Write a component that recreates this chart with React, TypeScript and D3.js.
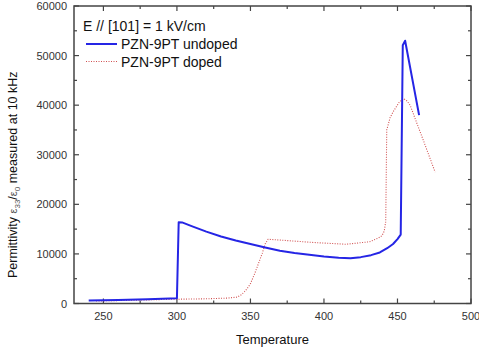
import * as React from 'react'
import * as d3 from 'd3'

// temperature / permittivity
const undopedT = [240, 260, 280, 300, 301.2, 303.5, 310, 320, 330, 340, 350, 360, 370, 380, 390, 400, 410, 418, 425, 432, 438, 443, 447, 450, 452.2, 453.6, 455.2, 464.7]
const undopedV = [600, 700, 850, 1050, 16400, 16350, 15600, 14500, 13500, 12700, 12000, 11300, 10650, 10200, 9850, 9500, 9250, 9150, 9350, 9750, 10300, 11150, 12000, 13000, 13900, 52100, 53000, 38000]

const dopedT = [245, 270, 297, 320, 335, 341, 344, 346, 348, 350, 353, 356, 358, 360, 362, 370, 393, 415, 431, 437, 439.5, 441, 442, 442.7, 445, 447, 451, 454, 456, 458.6, 463, 467.6, 475.6]
const dopedV = [500, 650, 850, 950, 1100, 1300, 1800, 2400, 3100, 4000, 6100, 8500, 10100, 12000, 12950, 12800, 12300, 11950, 12450, 13200, 13700, 14600, 16500, 35000, 37500, 38650, 40500, 41350, 41000, 40000, 36500, 32900, 26500]

const xTicks = [250, 300, 350, 400, 450, 500]
const yTicks = [0, 10000, 20000, 30000, 40000, 50000, 60000]

const legendItems = ['PZN-9PT undoped', 'PZN-9PT doped']

const W = 479
const H = 349
const margin = { left: 74, right: 8, top: 6, bottom: 45.5 }

export default function App() {
  const x = d3.scaleLinear().domain([230, 500]).range([margin.left, W - margin.right])
  const y = d3.scaleLinear().domain([0, 60000]).range([H - margin.bottom, margin.top])

  const line = d3.line<[number, number]>()
    .x(d => x(d[0]))
    .y(d => y(d[1]))

  const undoped = line(undopedT.map((t, i) => [t, undopedV[i]]))
  const doped = line(dopedT.map((t, i) => [t, dopedV[i]]))

  const x0 = x(230), x1 = x(500), y0 = y(0), y1 = y(60000)
  const axisColor = '#444'
  const font = 'Liberation Sans, Arial, sans-serif'

  const xMinor = d3.range(275, 500, 50)
  const yMinor = d3.range(5000, 60000, 10000)

  return (
    <svg width={W} height={H} style={{ position: 'absolute', left: 0, top: 0, background: '#fff' }} fontFamily={font}>
      {/* ticks, pointing inward on all four sides */}
      {xTicks.map(t => (
        <g key={'xt' + t}>
          <line x1={x(t)} x2={x(t)} y1={y0} y2={y0 - 5} stroke={axisColor} strokeWidth={1.2} />
          <line x1={x(t)} x2={x(t)} y1={y1} y2={y1 + 5} stroke={axisColor} strokeWidth={1.2} />
          <text x={x(t)} y={y0 + 16} textAnchor="middle" fontSize={11} fill="#333">{t}</text>
        </g>
      ))}
      {xMinor.map(t => (
        <g key={'xm' + t}>
          <line x1={x(t)} x2={x(t)} y1={y0} y2={y0 - 3} stroke={axisColor} strokeWidth={1.2} />
          <line x1={x(t)} x2={x(t)} y1={y1} y2={y1 + 3} stroke={axisColor} strokeWidth={1.2} />
        </g>
      ))}
      {yTicks.map(v => (
        <g key={'yt' + v}>
          <line x1={x0} x2={x0 + 5} y1={y(v)} y2={y(v)} stroke={axisColor} strokeWidth={1.2} />
          <line x1={x1} x2={x1 - 5} y1={y(v)} y2={y(v)} stroke={axisColor} strokeWidth={1.2} />
          <text x={x0 - 7} y={y(v) + 4} textAnchor="end" fontSize={11} fill="#333">{v}</text>
        </g>
      ))}
      {yMinor.map(v => (
        <g key={'ym' + v}>
          <line x1={x0} x2={x0 + 3} y1={y(v)} y2={y(v)} stroke={axisColor} strokeWidth={1.2} />
          <line x1={x1} x2={x1 - 3} y1={y(v)} y2={y(v)} stroke={axisColor} strokeWidth={1.2} />
        </g>
      ))}
      <rect x={x0} y={y1} width={x1 - x0} height={y0 - y1} fill="none" stroke={axisColor} strokeWidth={1.5} />

      {/* curves */}
      <path d={doped ?? ''} fill="none" stroke="#d05050" strokeWidth={1.1} strokeDasharray="1 1.5" />
      <path d={undoped ?? ''} fill="none" stroke="#2525e5" strokeWidth={2} strokeLinejoin="round" />

      {/* legend */}
      <text x={83} y={31} fontSize={14} fill="#111">E // [101] = 1 kV/cm</text>
      {legendItems.map((name, i) => (
        <g key={name} transform={`translate(0, ${44 + i * 17.5})`}>
          <line x1={86} x2={117} y1={0} y2={0}
            stroke={i === 0 ? '#2525e5' : '#d05050'}
            strokeWidth={i === 0 ? 2 : 1.1}
            strokeDasharray={i === 0 ? undefined : '1 1.5'} />
          <text x={121} y={5} fontSize={14} fill="#111">{name}</text>
        </g>
      ))}

      {/* axis titles */}
      <text x={(x0 + x1) / 2} y={y0 + 40} textAnchor="middle" fontSize={13} fill="#111">Temperature</text>
      <text transform={`translate(17, ${(y0 + y1) / 2 + 20}) rotate(-90)`} textAnchor="middle" fontSize={12.5} fill="#111">
        Permittivity <tspan fontSize={11} fill="#555">ε</tspan><tspan fontSize={8} dy={3} fill="#555">33</tspan><tspan dy={-3}>/</tspan><tspan fontSize={11} fill="#555">ε</tspan><tspan fontSize={8} dy={3} fill="#555">0</tspan><tspan dy={-3}> measured at 10 kHz</tspan>
      </text>
    </svg>
  )
}
